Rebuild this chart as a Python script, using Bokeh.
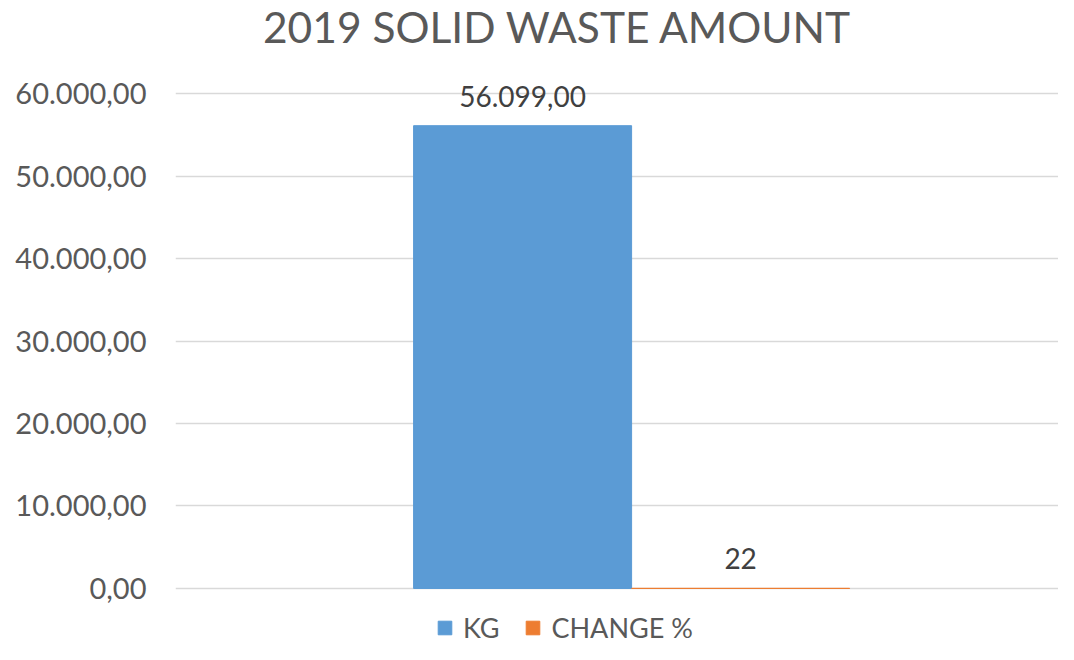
from bokeh.plotting import figure
from bokeh.models import (Range1d, FixedTicker, CustomJSTickFormatter, ColumnDataSource,
                          Legend, LegendItem, LabelSet, Label)
from bokeh.core.properties import value
from bokeh.embed import file_html
from bokeh.resources import INLINE

title_text = "2019 SOLID WASTE AMOUNT"
series_names = ["KG", "CHANGE %"]
series_values = [56099.00, 22]
series_labels = ["56.099,00", "22"]
series_colors = ["#5B9BD5", "#ED7D31"]
y_ticks = [0, 10000, 20000, 30000, 40000, 50000, 60000]

FONT = "Lato"
TXT = "#595959"

p = figure(width=1058, height=644, output_backend="svg", toolbar_location=None,
           x_range=Range1d(-1.092, 2.958), y_range=Range1d(-6788, 71273),
           min_border_left=175, min_border_right=0, min_border_top=0, min_border_bottom=0)
p.outline_line_color = None
p.background_fill_color = "white"
p.border_fill_color = "white"

title = Label(x=382, y=618, x_units="screen", y_units="screen", text=title_text,
              text_align="center", text_baseline="alphabetic", text_font=FONT,
              text_font_size="42.5px", text_color=TXT)
p.add_layout(title)

xs = [i + 0.5 for i in range(len(series_names))]
src = ColumnDataSource(dict(x=xs, top=series_values, name=series_names,
                            color=series_colors, lab=series_labels))
r = p.vbar(x="x", top="top", width=1.0, bottom=0, fill_color="color",
           line_color="color", line_width=1, source=src)

labels = LabelSet(x="x", y="top", text="lab", source=src, text_align="center",
                  text_baseline="bottom", y_offset=19, text_font=value(FONT),
                  text_font_size=value("28px"), text_color=value("#404040"))
p.add_layout(labels)

p.xaxis.visible = False
p.xgrid.grid_line_color = None
p.ygrid.grid_line_color = "#D9D9D9"
p.ygrid.grid_line_width = 1.5
p.yaxis.ticker = FixedTicker(ticks=y_ticks)
p.yaxis.formatter = CustomJSTickFormatter(code="""
const s = tick.toFixed(2).split('.');
return s[0].replace(/\\B(?=(\\d{3})+(?!\\d))/g, '.') + ',' + s[1];
""")
p.yaxis.axis_line_color = None
p.yaxis.major_tick_line_color = None
p.yaxis.minor_tick_line_color = None
p.yaxis.major_tick_out = 0
p.yaxis.major_tick_in = 0
p.yaxis.major_label_standoff = 29
p.yaxis.major_label_text_font = FONT
p.yaxis.major_label_text_font_size = "29px"
p.yaxis.major_label_text_color = TXT

items = [LegendItem(label=n, renderers=[r], index=i) for i, n in enumerate(series_names)]
legend = Legend(items=items, orientation="horizontal", location=(261, 0),
                border_line_color=None, background_fill_alpha=0,
                label_text_font=FONT, label_text_font_size="27px", label_text_color=TXT,
                glyph_width=17, glyph_height=17, label_standoff=10, spacing=25,
                padding=0, margin=0)
p.add_layout(legend, "center")

open("out.html", "w").write(file_html(p, INLINE))
